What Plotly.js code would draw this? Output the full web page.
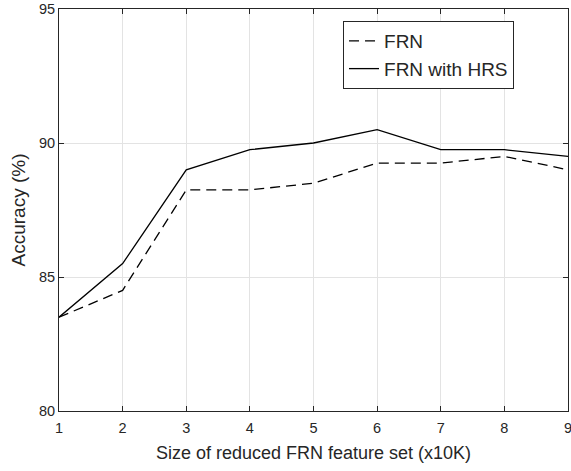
<!DOCTYPE html>
<html><head><meta charset="utf-8">
<script src="https://cdn.plot.ly/plotly-3.0.1.min.js"></script>
<style>body{margin:0;padding:0;background:#fff}</style>
</head><body>
<div id="chart" style="width:571px;height:471px"></div>
<script>
const sizes = [1, 2, 3, 4, 5, 6, 7, 8, 9];
const frn = [83.5, 84.5, 88.25, 88.25, 88.5, 89.25, 89.25, 89.5, 89];
const frnHrs = [83.5, 85.5, 89, 89.75, 90, 90.5, 89.75, 89.75, 89.5];
const xTicks = [1, 2, 3, 4, 5, 6, 7, 8, 9];
const yTicks = [80, 85, 90, 95];

const font = {family: 'Liberation Sans, Arial, sans-serif', color: '#262626'};
const traces = [
  {x: sizes, y: frn, name: 'FRN', mode: 'lines', line: {color: '#000', width: 1.3, dash: '10px,6px'}},
  {x: sizes, y: frnHrs, name: 'FRN with HRS', mode: 'lines', line: {color: '#000', width: 1.3}}
];
const axisCommon = {
  showline: true, mirror: 'ticks', linecolor: '#262626', linewidth: 1,
  ticks: 'inside', ticklen: 5, tickcolor: '#262626',
  showgrid: true, gridcolor: '#e3e3e3', gridwidth: 1, zeroline: false,
  ticklabeloverflow: 'allow',
  tickfont: Object.assign({size: 14.5}, font)
};
const layout = {
  width: 571, height: 471,
  margin: {l: 59, r: 3, t: 9, b: 60},
  paper_bgcolor: '#fff', plot_bgcolor: '#fff',
  showlegend: true,
  legend: {x: 0.558, y: 0.970, xanchor: 'left', yanchor: 'top',
    bordercolor: '#262626', borderwidth: 1, bgcolor: '#fff',
    font: Object.assign({size: 19}, font), tracegroupgap: 0, itemwidth: 30},
  xaxis: Object.assign({}, axisCommon, {range: [1, 9], tickvals: xTicks, ticklabelstandoff: 4,
    title: {text: 'Size of reduced FRN feature set (x10K)', font: Object.assign({size: 18}, font), standoff: 10}}),
  yaxis: Object.assign({}, axisCommon, {range: [80, 95], tickvals: yTicks,
    title: {text: 'Accuracy (%)', font: Object.assign({size: 19}, font), standoff: 8}})
};
Plotly.newPlot('chart', traces, layout, {displayModeBar: false, staticPlot: true});
</script>
</body></html>
